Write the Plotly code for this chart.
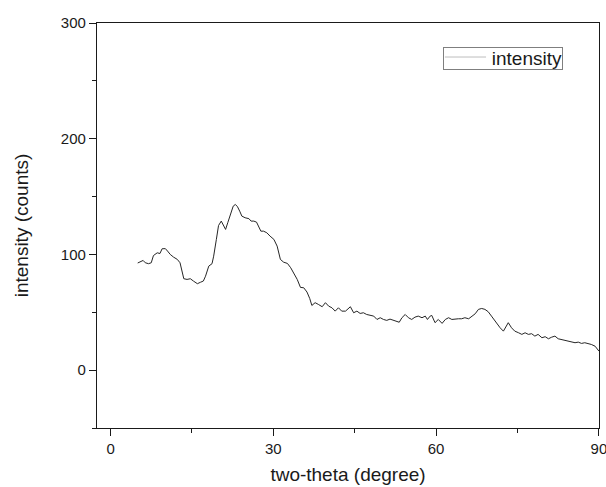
import plotly.graph_objects as go

two_theta = [5.0, 6.0, 6.4, 7.0, 7.5, 7.9, 8.6, 9.1, 9.5, 10.1,
             10.5, 11.0, 11.6, 12.3, 12.8, 13.2, 13.5, 14.1, 14.7, 15.3,
             16.0, 16.6, 17.1, 17.5, 18.1, 18.7, 19.0, 19.5, 19.9, 20.4,
             20.7, 21.2, 21.6, 22.1, 22.6, 23.0, 23.4, 23.8, 24.2, 24.8,
             25.5, 25.9, 26.4, 26.9, 27.3, 27.7, 28.2, 28.8, 29.4, 30.1,
             30.7, 31.3, 31.9, 32.6, 33.2, 33.7, 34.4, 35.0, 35.6, 36.2,
             36.7, 37.1, 37.7, 38.3, 39.0, 39.6, 40.2, 40.8, 41.4, 42.0,
             42.6, 43.3, 43.9, 44.2, 44.8, 45.4, 46.0, 46.6, 47.2, 47.9,
             48.5, 49.1, 49.7, 50.3, 50.9, 51.5, 52.1, 52.8, 53.2, 53.7,
             54.3, 54.9, 55.5, 56.1, 56.7, 57.4, 58.0, 58.4, 58.9, 59.2,
             59.8, 60.4, 61.1, 61.7, 62.3, 62.9, 63.5, 64.1, 64.7, 65.3,
             66.0, 66.6, 67.2, 67.8, 68.4, 69.0, 69.6, 70.2, 70.7, 71.2,
             71.8, 72.4, 72.9, 73.3, 73.9, 74.5, 75.2, 75.8, 76.4, 77.0,
             77.6, 78.2, 78.8, 79.5, 80.1, 80.7, 81.3, 81.9, 82.5, 83.1,
             83.7, 84.4, 85.0, 85.6, 86.2, 86.8, 87.4, 88.0, 88.6, 89.3,
             89.7, 90.0]

intensity = [92.6, 94.8, 92.8, 92.0, 92.8, 99.0, 101.4, 100.8, 104.9, 105.0,
             102.9, 100.0, 97.7, 95.7, 92.8, 85.6, 79.0, 78.4, 79.0, 76.9,
             74.7, 76.0, 77.0, 81.2, 89.9, 92.0, 98.5, 113.0, 125.0, 128.8,
             126.0, 121.6, 127.4, 134.6, 141.7, 143.2, 141.2, 137.4, 133.1, 131.7,
             130.9, 128.8, 128.8, 127.9, 124.5, 120.1, 120.1, 118.7, 115.8, 113.0,
             107.2, 95.7, 93.3, 92.2, 88.5, 84.0, 78.4, 71.5, 71.2, 67.5,
             62.0, 55.9, 58.3, 56.8, 54.8, 58.3, 55.3, 53.9, 51.0, 53.9,
             51.0, 51.0, 53.9, 54.8, 49.6, 51.0, 49.0, 49.6, 48.1, 47.3,
             46.7, 43.8, 45.3, 43.8, 43.0, 44.1, 43.1, 42.4, 41.4, 45.3,
             48.1, 45.3, 43.8, 45.8, 46.7, 45.3, 46.7, 43.8, 46.7, 47.3,
             41.0, 43.8, 40.4, 43.8, 45.3, 43.8, 44.4, 44.4, 44.4, 45.3,
             44.4, 46.7, 48.7, 52.5, 53.3, 52.5, 50.5, 46.7, 43.5, 41.0,
             36.6, 33.7, 38.0, 41.0, 36.6, 33.7, 32.3, 30.9, 32.3, 30.9,
             31.5, 29.4, 30.9, 28.0, 28.9, 27.1, 28.5, 29.4, 27.1, 26.5,
             25.9, 25.1, 24.2, 23.7, 24.2, 23.1, 23.7, 23.1, 22.2, 20.7,
             17.9, 16.5]

assert len(two_theta) == len(intensity)

x_ticks = [0, 30, 60, 90]
y_ticks = [0, 100, 200, 300]
series_name = "intensity"

FONT = "Liberation Sans, Arial, sans-serif"
INK = "#1a1a1a"

fig = go.Figure()
fig.add_trace(go.Scatter(
    x=two_theta, y=intensity, mode="lines", name=series_name,
    line=dict(color="#262626", width=1),
    showlegend=False, hoverinfo="skip",
))

axis_common = dict(
    showline=True, linecolor=INK, linewidth=1.2, mirror=True,
    showgrid=False, zeroline=False,
    ticks="outside", ticklen=7, tickwidth=1.2, tickcolor=INK,
    tickfont=dict(family=FONT, size=15, color=INK),
    ticklabeloverflow="allow",
    automargin=False,
)

# compact legend box (annotation + sample line), as in the reference
fig.add_annotation(
    xref="paper", yref="paper", x=0.809, y=0.912,
    xanchor="center", yanchor="middle",
    text=series_name, showarrow=False, align="right", width=118,
    font=dict(family=FONT, size=19, color=INK),
    bordercolor="#7f7f7f", borderwidth=1, borderpad=0, bgcolor="rgba(0,0,0,0)",
)
fig.add_shape(
    type="line", xref="paper", yref="paper",
    x0=0.693, x1=0.775, y0=0.916, y1=0.916,
    line=dict(color="#bdbdbd", width=1),
)

fig.update_layout(
    width=606, height=487,
    margin=dict(l=97, r=7, t=23, b=59),
    paper_bgcolor="white", plot_bgcolor="white",
    font=dict(family=FONT, color=INK),
    showlegend=False,
    xaxis=dict(
        range=[-2.5, 90.02], tickvals=x_ticks, ticktext=[str(v) for v in x_ticks],
        minor=dict(dtick=15, tick0=0, ticks="outside", ticklen=4,
                   tickwidth=1.2, tickcolor=INK),
        title=dict(text="two-theta (degree)", font=dict(family=FONT, size=19),
                   standoff=11),
        **axis_common,
    ),
    yaxis=dict(
        range=[-50, 300], tickvals=y_ticks, ticktext=[str(v) for v in y_ticks],
        minor=dict(dtick=50, tick0=0, ticks="outside", ticklen=4,
                   tickwidth=1.2, tickcolor=INK),
        title=dict(text="intensity (counts)", font=dict(family=FONT, size=19),
                   standoff=27),
        **axis_common,
    ),
)

fig.write_html("out.html", config={"displayModeBar": False},
               post_script="document.body.style.margin='0';")
